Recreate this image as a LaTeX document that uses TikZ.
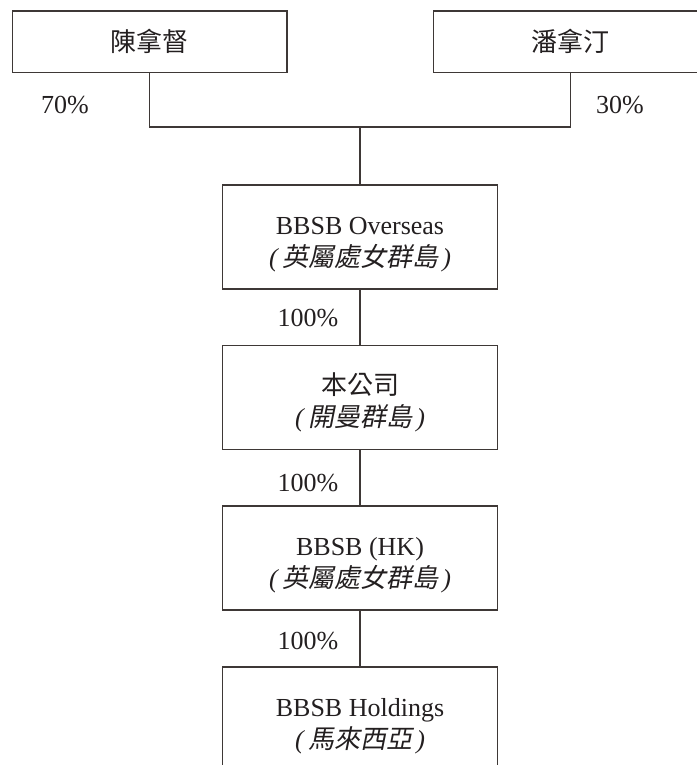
\documentclass[tikz,border=0pt]{standalone}
\usepackage{fontspec}
\setmainfont{Liberation Serif}
\newfontfamily\cjk{Noto Sans CJK TC}
\newfontfamily\cjkit[FakeSlant=0.2]{Noto Sans CJK TC}
\usetikzlibrary{positioning}
\definecolor{inkline}{RGB}{62,56,54}
\definecolor{inktext}{RGB}{35,31,32}
\tikzstyle{holder} = [draw=inkline,rectangle,line width=1pt,inner sep=0pt,
                      minimum width=206pt,minimum height=46pt,text=inktext]
\tikzstyle{entity} = [draw=inkline,rectangle,line width=1pt,inner sep=0pt,
                      minimum width=206pt,minimum height=78pt,text=inktext,
                      align=center]
\tikzstyle{share} = [text=inktext,inner sep=0pt]
\tikzstyle{line} = [draw=inkline,line width=1pt]
\newcommand{\place}[1]{{\itshape(\,}{\cjkit #1}{\itshape\,)}}
\newcommand{\entry}[2]{\rule{0pt}{24pt}#1\\\place{#2}}

\begin{document}
\begin{tikzpicture}[x=0.75pt,y=-0.75pt]
    \fontsize{19.5}{24}\selectfont
    \useasboundingbox (0,0) rectangle (697,765);

    % shareholders
    \node[holder] (chen) at (149.5,41.5) {\cjk 陳拿督};
    \node[holder] (pan) at (570.5,41.5) {\cjk 潘拿汀};
    \coordinate (join) at (360,127);

    % group companies, top to bottom
    \node[entity] (overseas) at (360,237) {\entry{BBSB Overseas}{英屬處女群島}};
    \node[entity] (company) at (360,397.5) {\entry{\cjk 本公司}{開曼群島}};
    \node[entity] (hk) at (360,558) {\entry{BBSB (HK)}{英屬處女群島}};
    \node[entity] (holdings) at (360,719) {\entry{BBSB Holdings}{馬來西亞}};

    % percentages
    \node[share] (p70) at (65,105) {70\%};
    \node[share] (p30) at (620,105) {30\%};
    \node[share] (p1) at (308,318) {100\%};
    \node[share] (p2) at (308,483) {100\%};
    \node[share] (p3) at (308,641) {100\%};

    % now link the nodes
    \draw [line] (chen.south) |- (join);
    \draw [line] (pan.south) |- (join);
    \draw [line] (join) -- (overseas.north);
    \draw [line] (overseas) -- (company);
    \draw [line] (company) -- (hk);
    \draw [line] (hk) -- (holdings);
\end{tikzpicture}
\end{document}
